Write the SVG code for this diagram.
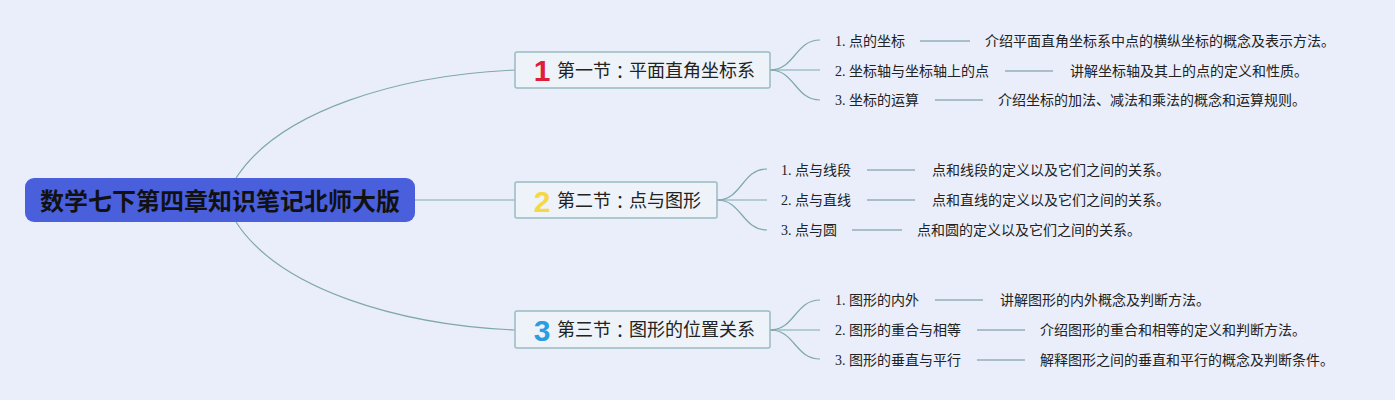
<svg xmlns="http://www.w3.org/2000/svg" width="1395" height="400" viewBox="0 0 1395 400">
<style>
.bg{fill:#e9eefa}
.conn{fill:none;stroke:#7fa8aa;stroke-width:1.2}
.root{fill:#4a5fdc}
.roottxt{font-family:"Liberation Sans","Noto Sans CJK SC",sans-serif;font-size:24px;font-weight:bold;fill:#111}
.branch{fill:#edf3f8;stroke:#98bcc0;stroke-width:1.5}
.btxt{font-family:"Liberation Sans","Noto Sans CJK SC",sans-serif;font-size:18px;fill:#222}
.colon{font-family:"Noto Sans CJK TC",sans-serif}
.num{font-family:"Liberation Sans","Noto Sans CJK SC",sans-serif;font-size:30px;font-weight:900}
.leaf{font-family:"Liberation Serif","Noto Sans CJK SC",sans-serif;font-size:14px;fill:#222}
.dash{stroke:#a8bfca;stroke-width:2}
</style>
<rect class="bg" x="0" y="0" width="1395" height="400"/>
<g id="connectors">
<path class="conn" d="M236,178 C280,110 400,75 515,70"/>
<path class="conn" d="M415,200 L515,200"/>
<path class="conn" d="M236,222 C280,290 400,325 515,330"/>
<path class="conn" d="M770,70 C795,70 795,40 820,40"/>
<path class="conn" d="M770,70 L820,70"/>
<path class="conn" d="M770,70 C795,70 795,100 820,100"/>
<path class="conn" d="M717,200 C742,200 742,169 767,169"/>
<path class="conn" d="M717,200 L767,200"/>
<path class="conn" d="M717,200 C742,200 742,230 767,230"/>
<path class="conn" d="M770,330 C795,330 795,300 820,300"/>
<path class="conn" d="M770,330 L820,330"/>
<path class="conn" d="M770,330 C795,330 795,359 820,359"/>
</g>
<g id="root">
<rect class="root" x="25" y="178" width="390" height="44" rx="9"/>
<text class="roottxt" x="220" y="201" text-anchor="middle" dominant-baseline="central">数学七下第四章知识笔记北师大版</text>
</g>
<g id="n1">
<rect class="branch" x="515" y="52" width="255" height="36" rx="2"/>
<text class="num" x="542" y="70" text-anchor="middle" dominant-baseline="central" fill="#e01e3c">1</text>
<text class="btxt" x="557" y="71" dominant-baseline="central">第一节<tspan class="colon">：</tspan>平面直角坐标系</text>
</g>
<g id="n2">
<rect class="branch" x="515" y="182" width="202" height="36" rx="2"/>
<text class="num" x="542" y="201" text-anchor="middle" dominant-baseline="central" fill="#f6d746">2</text>
<text class="btxt" x="557" y="201" dominant-baseline="central">第二节<tspan class="colon">：</tspan>点与图形</text>
</g>
<g id="n3">
<rect class="branch" x="515" y="311" width="255" height="37" rx="2"/>
<text class="num" x="542" y="330" text-anchor="middle" dominant-baseline="central" fill="#2a9de0">3</text>
<text class="btxt" x="557" y="330" dominant-baseline="central">第三节<tspan class="colon">：</tspan>图形的位置关系</text>
</g>
<g id="n1-leaves">
<text class="leaf" x="835" y="41" dominant-baseline="central">1. 点的坐标</text>
<line class="dash" x1="920" y1="41" x2="970" y2="41"/>
<text class="leaf" x="985" y="41" dominant-baseline="central">介绍平面直角坐标系中点的横纵坐标的概念及表示方法。</text>
<text class="leaf" x="835" y="71" dominant-baseline="central">2. 坐标轴与坐标轴上的点</text>
<line class="dash" x1="1005" y1="71" x2="1053" y2="71"/>
<text class="leaf" x="1070" y="71" dominant-baseline="central">讲解坐标轴及其上的点的定义和性质。</text>
<text class="leaf" x="835" y="100" dominant-baseline="central">3. 坐标的运算</text>
<line class="dash" x1="935" y1="100" x2="983" y2="100"/>
<text class="leaf" x="998" y="100" dominant-baseline="central">介绍坐标的加法、减法和乘法的概念和运算规则。</text>
</g>
<g id="n2-leaves">
<text class="leaf" x="781" y="170" dominant-baseline="central">1. 点与线段</text>
<line class="dash" x1="867" y1="170" x2="915" y2="170"/>
<text class="leaf" x="932" y="170" dominant-baseline="central">点和线段的定义以及它们之间的关系。</text>
<text class="leaf" x="781" y="200" dominant-baseline="central">2. 点与直线</text>
<line class="dash" x1="867" y1="200" x2="915" y2="200"/>
<text class="leaf" x="932" y="200" dominant-baseline="central">点和直线的定义以及它们之间的关系。</text>
<text class="leaf" x="781" y="230" dominant-baseline="central">3. 点与圆</text>
<line class="dash" x1="852" y1="230" x2="902" y2="230"/>
<text class="leaf" x="917" y="230" dominant-baseline="central">点和圆的定义以及它们之间的关系。</text>
</g>
<g id="n3-leaves">
<text class="leaf" x="835" y="300" dominant-baseline="central">1. 图形的内外</text>
<line class="dash" x1="935" y1="300" x2="983" y2="300"/>
<text class="leaf" x="1000" y="300" dominant-baseline="central">讲解图形的内外概念及判断方法。</text>
<text class="leaf" x="835" y="330" dominant-baseline="central">2. 图形的重合与相等</text>
<line class="dash" x1="977" y1="330" x2="1025" y2="330"/>
<text class="leaf" x="1040" y="330" dominant-baseline="central">介绍图形的重合和相等的定义和判断方法。</text>
<text class="leaf" x="835" y="360" dominant-baseline="central">3. 图形的垂直与平行</text>
<line class="dash" x1="977" y1="360" x2="1025" y2="360"/>
<text class="leaf" x="1040" y="360" dominant-baseline="central">解释图形之间的垂直和平行的概念及判断条件。</text>
</g>
</svg>
